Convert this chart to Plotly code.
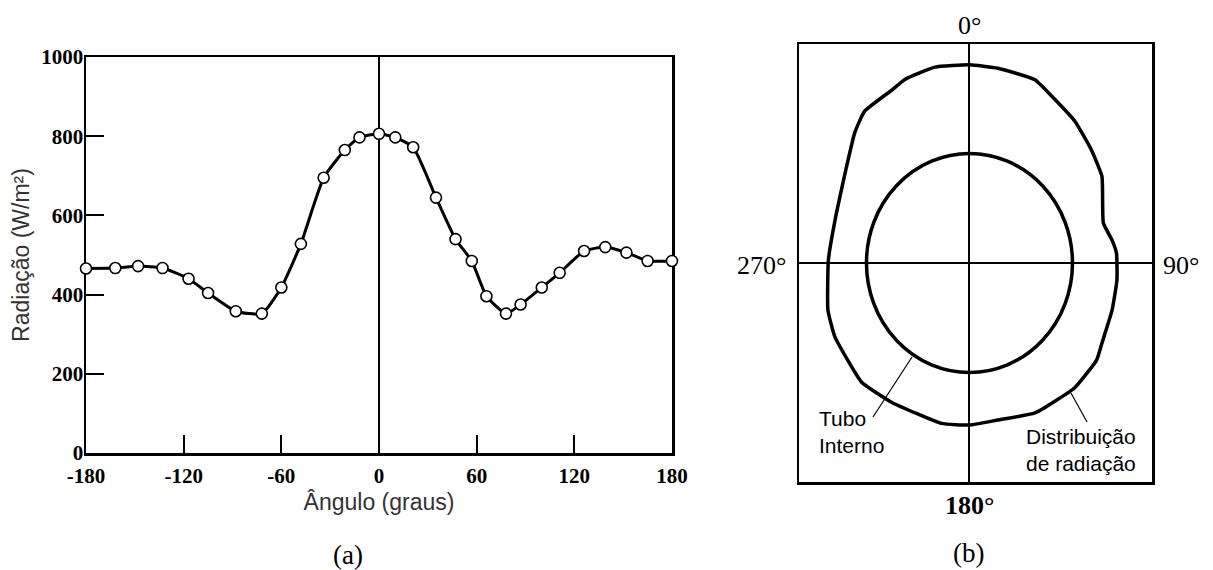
import math
import plotly.graph_objects as go

# ---------------- data: panel (a) ----------------
angle_a = [-180, -162, -148, -133, -117, -105, -88, -72, -60, -48, -34, -21, -12, 0,
           10, 21, 35, 47, 57, 66, 78, 87, 100, 111, 126, 139, 152, 165, 180]
radiation_a = [466, 467, 472, 467, 440, 404, 358, 352, 418, 528, 695, 765, 797, 806,
               797, 772, 645, 540, 485, 396, 352, 375, 418, 455, 510, 520, 506, 485, 485]
x_tickvals = [-180, -120, -60, 0, 60, 120, 180]
x_ticktext = ["-180", "-120", "-60", "0", "60", "120", "180"]
y_tickvals = [0, 200, 400, 600, 800, 1000]
y_ticktext = ["0", "200", "400", "600", "800", "1000"]

# ---------------- data: panel (b) ----------------
# angle measured clockwise from top (0°), radius relative to inner tube radius
theta_b = [0, 8.8, 20.8, 27.7, 38.4, 49.0, 58.4, 74.3, 81.4, 86.4, 96.2, 107.3, 119.7,
           125.7, 138.1, 155.1, 169.1, 180, 190.5, 210.8, 224.0, 242.7, 252.6, 271.1,
           289.5, 304.2, 316.9, 323.7, 334.5, 339.5, 349.4]
r_b = [1.81, 1.80, 1.79, 1.72, 1.65, 1.57, 1.51, 1.35, 1.40, 1.43, 1.44, 1.45, 1.48,
       1.52, 1.53, 1.51, 1.46, 1.48, 1.49, 1.48, 1.51, 1.47, 1.44, 1.37,
       1.37, 1.46, 1.63, 1.72, 1.75, 1.79, 1.82]
tube_radius = 1.0

W, H = 1213, 570


def px(x):
    return x / W


def py(y):
    return 1 - y / H


fig = go.Figure()

fig.add_trace(go.Scatter(
    x=angle_a, y=radiation_a, mode="lines+markers",
    line=dict(color="black", width=3, shape="spline", smoothing=0.5),
    marker=dict(size=11, color="white", line=dict(color="black", width=1.6)),
    cliponaxis=False, showlegend=False, xaxis="x", yaxis="y"))

bx = [r * math.sin(math.radians(t)) for t, r in zip(theta_b, r_b)]
by = [r * math.cos(math.radians(t)) for t, r in zip(theta_b, r_b)]
bx.append(bx[0])
by.append(by[0])
fig.add_trace(go.Scatter(
    x=bx, y=by, mode="lines",
    line=dict(color="black", width=3.5, shape="spline", smoothing=0.4),
    showlegend=False, xaxis="x2", yaxis="y2"))

serif_bold = dict(family="Liberation Serif", size=21, color="black", weight="bold")
sans = dict(family="Liberation Sans", size=23, color="#333333")

fig.update_layout(
    template="none",
    width=W, height=H, autosize=False,
    margin=dict(l=0, r=0, t=0, b=0, autoexpand=False),
    paper_bgcolor="white", plot_bgcolor="white",
    xaxis=dict(domain=[px(86), px(672)], range=[-180, 180], automargin=False,
               tickvals=x_tickvals, ticktext=x_ticktext, tickfont=serif_bold,
               ticks="inside", ticklen=18, tickwidth=2, tickcolor="black",
               ticklabelstandoff=2,
               showline=True, linewidth=2.5, linecolor="black", mirror=True,
               showgrid=False, zeroline=True, zerolinecolor="black", zerolinewidth=2,
               layer="below traces",
               title=dict(text="Ângulo (graus)", font=sans, standoff=7)),
    yaxis=dict(domain=[py(453), py(57)], range=[0, 1000], automargin=False,
               tickvals=y_tickvals, ticktext=y_ticktext, tickfont=serif_bold,
               ticks="inside", ticklen=18, tickwidth=2, tickcolor="black",
               ticklabelstandoff=-4,
               showline=True, linewidth=2.5, linecolor="black", mirror=True,
               showgrid=False, zeroline=False, layer="below traces",
               title=dict(text="Radiação (W/m²)", font=sans, standoff=5)),
    xaxis2=dict(domain=[px(799), px(1152)], range=[-1.655, 1.772], anchor="y2",
                automargin=False,
                showline=True, linewidth=2.5, linecolor="black", mirror=True,
                showticklabels=False, ticks="", showgrid=False,
                zeroline=True, zerolinecolor="black", zerolinewidth=2),
    yaxis2=dict(domain=[py(482), py(44)], range=[-2.0, 2.0], anchor="x2",
                automargin=False,
                showline=True, linewidth=2.5, linecolor="black", mirror=True,
                showticklabels=False, ticks="", showgrid=False,
                zeroline=True, zerolinecolor="black", zerolinewidth=2),
)

fig.add_shape(type="circle", xref="x2", yref="y2",
              x0=-tube_radius, x1=tube_radius, y0=-tube_radius, y1=tube_radius,
              line=dict(color="black", width=3.5))

# leader lines
fig.add_shape(type="line", xref="paper", yref="paper",
              x0=px(873), y0=py(417), x1=px(912), y1=py(357),
              line=dict(color="black", width=1.2))
fig.add_shape(type="line", xref="paper", yref="paper",
              x0=px(1087), y0=py(422), x1=px(1071), y1=py(393),
              line=dict(color="black", width=1.2))

serif = dict(family="Liberation Serif", size=26, color="black")


def note(x, y, text, font, xanchor="center", align="center"):
    fig.add_annotation(x=px(x), y=py(y), xref="paper", yref="paper", text=text,
                       showarrow=False, font=font, xanchor=xanchor, yanchor="middle",
                       align=align)


note(969, 25, "0°", serif)
note(761, 265, "270°", serif)
note(1181, 265, "90°", serif)
note(969, 505, "180°", dict(family="Liberation Serif", size=26, color="black", weight="bold"))
note(348, 555, "(a)", dict(family="Liberation Serif", size=27, color="black"))
note(968, 553, "(b)", dict(family="Liberation Serif", size=27, color="black"))
note(817, 432, "Tubo<br>Interno", dict(family="Liberation Sans", size=21, color="black"),
     xanchor="left", align="left")
note(1024, 450, "Distribuição<br>de radiação",
     dict(family="Liberation Sans", size=21, color="black"), xanchor="left", align="left")

fig.write_html("out.html",
               config={"displayModeBar": False, "staticPlot": True},
               post_script="document.body.style.margin='0';"
                           "document.body.style.overflow='hidden';")
